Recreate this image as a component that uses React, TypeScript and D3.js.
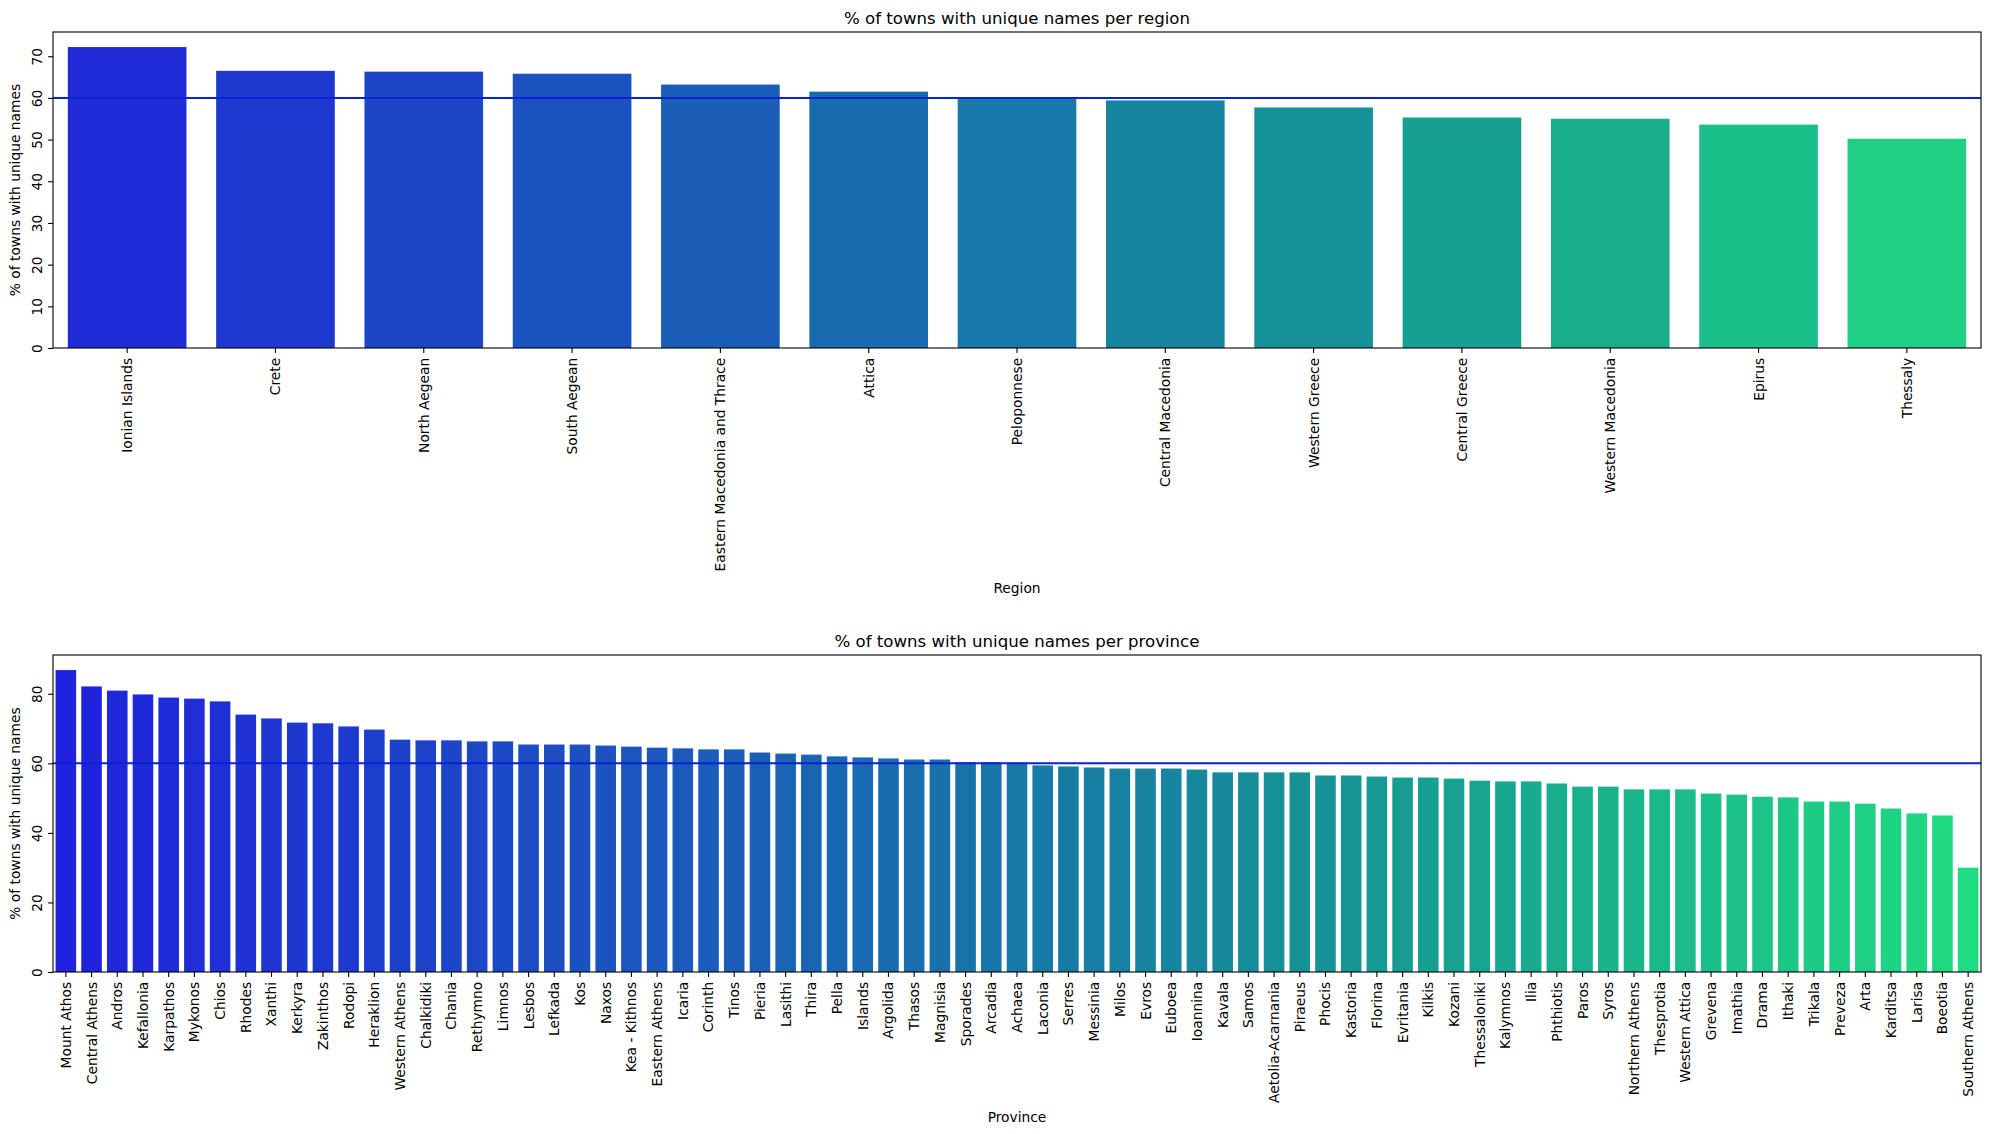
import React, { useEffect, useRef } from 'react';
import * as d3 from 'd3';

// Share of towns whose name is unique, per region and per province
const regions = [
  'Ionian Islands', 'Crete', 'North Aegean', 'South Aegean', 'Eastern Macedonia and Thrace',
  'Attica', 'Peloponnese', 'Central Macedonia', 'Western Greece', 'Central Greece',
  'Western Macedonia', 'Epirus', 'Thessaly',
];
const regionShares = [72.2, 66.5, 66.3, 65.8, 63.2, 61.5, 60.2, 59.4, 57.7, 55.3, 55.0, 53.6, 50.2];

const provinces = [
  'Mount Athos', 'Central Athens', 'Andros', 'Kefallonia', 'Karpathos', 'Mykonos', 'Chios',
  'Rhodes', 'Xanthi', 'Kerkyra', 'Zakinthos', 'Rodopi', 'Heraklion', 'Western Athens',
  'Chalkidiki', 'Chania', 'Rethymno', 'Limnos', 'Lesbos', 'Lefkada', 'Kos', 'Naxos',
  'Kea - Kithnos', 'Eastern Athens', 'Icaria', 'Corinth', 'Tinos', 'Pieria', 'Lasithi',
  'Thira', 'Pella', 'Islands', 'Argolida', 'Thasos', 'Magnisia', 'Sporades', 'Arcadia',
  'Achaea', 'Laconia', 'Serres', 'Messinia', 'Milos', 'Evros', 'Euboea', 'Ioannina',
  'Kavala', 'Samos', 'Aetolia-Acarnania', 'Piraeus', 'Phocis', 'Kastoria', 'Florina',
  'Evritania', 'Kilkis', 'Kozani', 'Thessaloniki', 'Kalymnos', 'Ilia', 'Phthiotis', 'Paros',
  'Syros', 'Northern Athens', 'Thesprotia', 'Western Attica', 'Grevena', 'Imathia', 'Drama',
  'Ithaki', 'Trikala', 'Preveza', 'Arta', 'Karditsa', 'Larisa', 'Boeotia', 'Southern Athens',
];
const provinceShares = [
  86.8, 82.1, 80.9, 79.8, 78.9, 78.6, 77.8,
  74.0, 72.9, 71.7, 71.5, 70.6, 69.7, 66.8,
  66.6, 66.6, 66.3, 66.3, 65.4, 65.4, 65.4, 65.1,
  64.8, 64.5, 64.3, 64.0, 64.0, 63.1, 62.8,
  62.5, 62.0, 61.7, 61.4, 61.1, 61.1, 60.3, 60.3,
  60.2, 59.4, 59.1, 58.8, 58.5, 58.5, 58.5, 58.2,
  57.4, 57.4, 57.4, 57.4, 56.5, 56.5, 56.2,
  55.9, 55.9, 55.6, 55.0, 54.8, 54.8, 54.2, 53.3,
  53.3, 52.5, 52.5, 52.5, 51.3, 51.0, 50.4,
  50.2, 49.0, 49.0, 48.4, 47.0, 45.6, 45.0, 30.0,
];

const regionTicks = [0, 10, 20, 30, 40, 50, 60, 70];
const provinceTicks = [0, 20, 40, 60, 80];
const referenceShare = 60;

const WIDTH = 1990;
const HEIGHT = 1134;
const FONT = '"DejaVu Sans", sans-serif';
const LEFT = 53;
const RIGHT = 1981;
const TICK = 4.9;

// winter colormap sampled away from both ends, then desaturated like seaborn bars
const winterPalette = (n: number) =>
  d3.range(n).map(i => {
    const t = (i + 1) / (n + 1);
    const c = d3.hsl(d3.rgb(0, 255 * t, 255 * (1 - 0.5 * t)));
    c.s *= 0.75;
    return c.formatHex();
  });

type Panel = {
  names: string[];
  values: number[];
  ticks: number[];
  top: number;
  bottom: number;
  title: string;
  xLabel: string;
  xLabelY: number;
};

const drawPanel = (svg: any, p: Panel) => {
  const x = d3.scaleBand()
    .domain(p.names)
    .range([LEFT, RIGHT])
    .paddingInner(0.2)
    .paddingOuter(0.1);

  const y = d3.scaleLinear()
    .domain([0, (d3.max(p.values) as number) * 1.05])
    .range([p.bottom, p.top]);

  const colors = winterPalette(p.names.length);
  const g = svg.append('g');

  // Bars
  g.selectAll('.bar')
    .data(p.names)
    .enter().append('rect')
    .attr('class', 'bar')
    .attr('x', (d: string) => x(d))
    .attr('y', (d: string, i: number) => y(p.values[i]))
    .attr('width', x.bandwidth())
    .attr('height', (d: string, i: number) => p.bottom - y(p.values[i]))
    .attr('fill', (d: string, i: number) => colors[i]);

  // Reference line
  g.append('line')
    .attr('x1', LEFT)
    .attr('x2', RIGHT)
    .attr('y1', y(referenceShare))
    .attr('y2', y(referenceShare))
    .attr('stroke', '#0a22d2')
    .attr('stroke-width', 2);

  // X axis with vertical labels
  const xAxis = g.append('g')
    .attr('transform', `translate(0,${p.bottom})`)
    .call(d3.axisBottom(x).tickSize(TICK).tickSizeOuter(0));
  xAxis.select('.domain').remove();
  xAxis.selectAll('line').attr('stroke', '#000').attr('stroke-width', 1.1);
  xAxis.selectAll('text')
    .attr('y', 0)
    .attr('x', -(TICK + 4.9))
    .attr('dy', '0.36em')
    .attr('transform', 'rotate(-90)')
    .attr('text-anchor', 'end')
    .attr('fill', '#000')
    .attr('font-family', FONT)
    .attr('font-size', 13.8);

  // Y axis, tick labels rotated too
  const yAxis = g.append('g')
    .attr('transform', `translate(${LEFT},0)`)
    .call(d3.axisLeft(y).tickValues(p.ticks).tickSize(TICK).tickSizeOuter(0));
  yAxis.select('.domain').remove();
  yAxis.selectAll('line').attr('stroke', '#000').attr('stroke-width', 1.1);
  yAxis.selectAll('text')
    .attr('x', 0)
    .attr('dy', null)
    .attr('transform', 'translate(-10.6,0) rotate(-90)')
    .attr('text-anchor', 'middle')
    .attr('fill', '#000')
    .attr('font-family', FONT)
    .attr('font-size', 13.8);

  // Frame
  g.append('rect')
    .attr('x', LEFT)
    .attr('y', p.top)
    .attr('width', RIGHT - LEFT)
    .attr('height', p.bottom - p.top)
    .attr('fill', 'none')
    .attr('stroke', '#000')
    .attr('stroke-width', 1.1);

  // Labels
  g.append('text')
    .attr('x', (LEFT + RIGHT) / 2)
    .attr('y', p.top - 8.3)
    .attr('text-anchor', 'middle')
    .attr('font-family', FONT)
    .attr('font-size', 16.6)
    .attr('fill', '#000')
    .text(p.title);

  g.append('text')
    .attr('x', (LEFT + RIGHT) / 2)
    .attr('y', p.xLabelY)
    .attr('text-anchor', 'middle')
    .attr('font-family', FONT)
    .attr('font-size', 13.8)
    .attr('fill', '#000')
    .text(p.xLabel);

  g.append('text')
    .attr('transform', `translate(20,${(p.top + p.bottom) / 2}) rotate(-90)`)
    .attr('text-anchor', 'middle')
    .attr('font-family', FONT)
    .attr('font-size', 13.8)
    .attr('fill', '#000')
    .text('% of towns with unique names');
};

const App = () => {
  const svgRef = useRef<SVGSVGElement | null>(null);

  useEffect(() => {
    if (!svgRef.current) return;
    const svg = d3.select(svgRef.current);
    svg.selectAll('*').remove();

    svg.append('rect').attr('width', WIDTH).attr('height', HEIGHT).attr('fill', '#fff');

    drawPanel(svg, {
      names: regions,
      values: regionShares,
      ticks: regionTicks,
      top: 32,
      bottom: 348,
      title: '% of towns with unique names per region',
      xLabel: 'Region',
      xLabelY: 593,
    });

    drawPanel(svg, {
      names: provinces,
      values: provinceShares,
      ticks: provinceTicks,
      top: 655,
      bottom: 972,
      title: '% of towns with unique names per province',
      xLabel: 'Province',
      xLabelY: 1122,
    });
  }, []);

  return (
    <svg
      ref={svgRef}
      width={WIDTH}
      height={HEIGHT}
      style={{ position: 'absolute', left: 0, top: 0, display: 'block' }}
    />
  );
};

export default App;
